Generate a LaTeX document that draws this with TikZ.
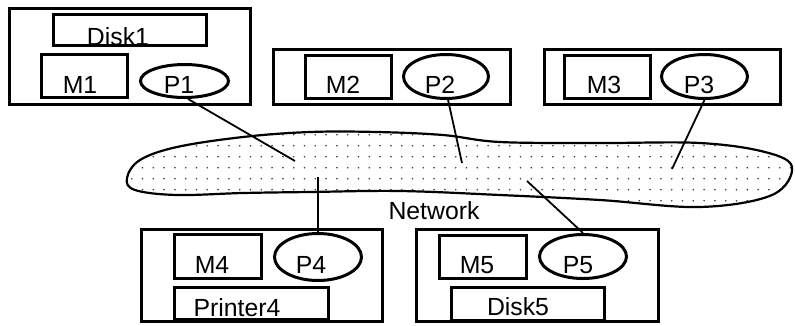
\documentclass[tikz,border=0pt]{standalone}
\usepackage{fontspec}
\setmainfont{Liberation Sans}
\usetikzlibrary{shapes.geometric}
\begin{document}
\begin{tikzpicture}[x=1pt,y=-1pt,
  box/.style={draw,line width=3.3pt,rectangle,inner sep=0pt},
  proc/.style={draw,line width=3pt,ellipse,inner sep=0pt},
  lbl/.style={anchor=base,inner sep=0pt,font=\fontsize{24.8}{29}\selectfont},
  link/.style={line width=1.8pt},
  cloud/.style={line width=2.2pt}]
\useasboundingbox (0,0) rectangle (795,325);
% network cloud
\def\cloudpath{plot[smooth cycle,tension=0.6] coordinates {(127,178) (140,160) (177,147) (243,137) (310,132) (377,132) (443,135) (500,142) (600,143) (700,143) (765,152) (792,167) (772,195) (700,207) (600,200) (500,195) (400,191) (310,192) (243,193) (177,195) (135,190)}}
\begin{scope}
\clip \cloudpath;
\foreach \i in {0,...,62}{
  \foreach \j in {0,...,7}{
    \fill[black!75] (131.7+10.8*\i,134.7+11*\j) circle[radius=0.9pt];
  }
}
\end{scope}
\draw[cloud] \cloudpath;
\node[lbl] (tnet) at (434,219) {Network};
% connection points in the cloud
\coordinate (n1) at (295,161);
\coordinate (n2) at (462,163);
\coordinate (n3) at (672,169);
\coordinate (n4) at (318,177);
\coordinate (n5) at (527,181);
% machine 1
\node[box,minimum width=241,minimum height=96] (b1) at (130,56.5) {};
\node[box,minimum width=153,minimum height=31] (d1) at (130,30) {};
\node[box,minimum width=86,minimum height=43] (m1) at (84.5,76) {};
\node[proc,minimum width=88,minimum height=33] (p1) at (184.5,81) {};
\node[lbl] (td1) at (118,45) {Disk1};
\node[lbl] (tm1) at (80,93) {M1};
\node[lbl] (tp1) at (179,93) {P1};
% machine 2
\node[box,minimum width=237,minimum height=55] (b2) at (392,77) {};
\node[box,minimum width=86,minimum height=43] (m2) at (348.5,77) {};
\node[proc,minimum width=85,minimum height=44] (p2) at (446,76.5) {};
\node[lbl] (tm2) at (343,93) {M2};
\node[lbl] (tp2) at (440,93) {P2};
% machine 3
\node[box,minimum width=236,minimum height=55] (b3) at (662.5,77) {};
\node[box,minimum width=86,minimum height=43] (m3) at (607.5,77) {};
\node[proc,minimum width=86,minimum height=44] (p3) at (704.5,76.5) {};
\node[lbl] (tm3) at (604,93) {M3};
\node[lbl] (tp3) at (699,93) {P3};
% machine 4
\node[box,minimum width=241,minimum height=92] (b4) at (262,275.5) {};
\node[box,minimum width=87,minimum height=44] (m4) at (218,256.5) {};
\node[proc,minimum width=87,minimum height=47] (p4) at (318,257) {};
\node[box,minimum width=154,minimum height=32] (pr4) at (251.5,303.5) {};
\node[lbl] (tm4) at (212,273) {M4};
\node[lbl] (tp4) at (311,273) {P4};
\node[lbl] (tpr4) at (237,316) {Printer4};
% machine 5
\node[box,minimum width=242,minimum height=92] (b5) at (537.5,275.5) {};
\node[box,minimum width=87,minimum height=43] (m5) at (483,257) {};
\node[proc,minimum width=87,minimum height=44] (p5) at (583,256.5) {};
\node[box,minimum width=153,minimum height=33] (d5) at (528,304) {};
\node[lbl] (tm5) at (477,273) {M5};
\node[lbl] (tp5) at (578,273) {P5};
\node[lbl] (td5) at (518,315) {Disk5};
% connectors
\draw[link] (p1.-79) -- (n1);
\draw[link] (p2.-85) -- (n2);
\draw[link] (p3.south) -- (n3);
\draw[link] (p4.north) -- (n4);
\draw[link] (p5.north) -- (n5);
\end{tikzpicture}
\end{document}
